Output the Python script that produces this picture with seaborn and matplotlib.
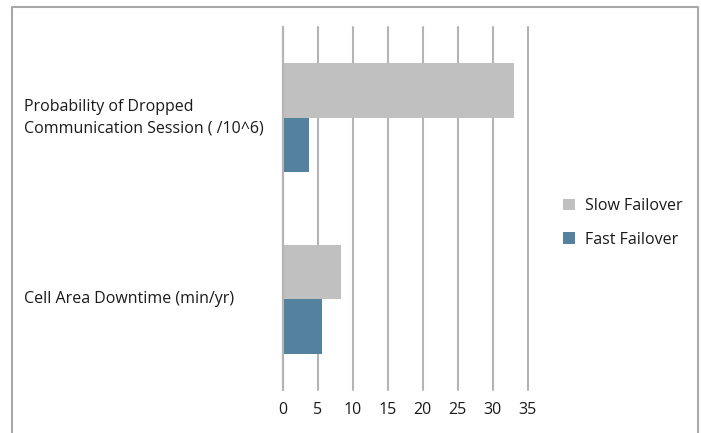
import matplotlib
matplotlib.use("Agg")
import matplotlib.pyplot as plt
import seaborn as sns
import pandas as pd
from matplotlib.patches import Patch
from matplotlib.lines import Line2D

categories = ["Probability of Dropped\nCommunication Session ( /10^6)",
              "Cell Area Downtime (min/yr)"]
series = ["Slow Failover", "Fast Failover"]
slow_values = [33.0, 8.3]
fast_values = [3.8, 5.7]
x_ticks = [0, 5, 10, 15, 20, 25, 30, 35]

colors = {"Slow Failover": "#c0c0c0", "Fast Failover": "#53819e"}
grid_color = "#b4b4b4"

df = pd.DataFrame({
    "category": categories * 2,
    "series": [series[0]] * 2 + [series[1]] * 2,
    "value": slow_values + fast_values,
})

sns.set_theme(style="white")
plt.rcParams["font.family"] = ["Open Sans", "DejaVu Sans"]

fig = plt.figure(figsize=(7.01, 4.33), dpi=100)
ax = fig.add_axes([282.5 / 701, 1 - 390 / 433, (527.5 - 282.5) / 701, (390 - 27) / 433])

sns.barplot(data=df, y="category", x="value", hue="series", order=categories,
            hue_order=series, palette=colors, orient="h", width=0.6,
            saturation=1, ax=ax, legend=False, linewidth=0, edgecolor="none")

ax.set_xlim(0, 35)
ax.set_ylim(1.5, -0.5)
ax.set_xticks(x_ticks)
ax.set_xticklabels([str(t) for t in x_ticks], fontsize=11.5, color="#1a1a1a")
ax.xaxis.grid(True, color=grid_color, linewidth=1.5)
for gl in ax.get_xgridlines():
    gl.set_clip_on(False)
ax.set_axisbelow(True)
ax.tick_params(axis="x", length=4, width=1.5, color=grid_color, pad=5)

# category labels, left aligned at the panel edge
ax.set_yticks(range(len(categories)))
ax.set_yticklabels(categories, fontsize=11.5, ha="left", va="center",
                   color="#1a1a1a", linespacing=1.45)
ax.tick_params(axis="y", which="major", length=0, pad=186)
ax.set_yticks([-0.5, 0.5, 1.5], minor=True)
ax.tick_params(axis="y", which="minor", length=5, width=1.5, color=grid_color)
ax.set_xlabel("")
ax.set_ylabel("")

for side in ["top", "right", "bottom"]:
    ax.spines[side].set_visible(False)
ax.spines["left"].set_color(grid_color)
ax.spines["left"].set_linewidth(1.5)

handles = [Patch(facecolor=colors[s], edgecolor="none", label=s) for s in series]
fig.legend(handles=handles, loc="center left",
           bbox_to_anchor=(549 / 701, 1 - 223 / 433), frameon=False,
           fontsize=11.5, handlelength=0.75, handleheight=0.75,
           handletextpad=0.6, labelspacing=1.1, labelcolor="#1a1a1a")

# outer frame (top, left, right)
fx = [11.5 / 701, 11.5 / 701, 697.5 / 701, 697.5 / 701]
fy = [0.0, 1 - 6.5 / 433, 1 - 6.5 / 433, 0.0]
fig.add_artist(Line2D(fx, fy, transform=fig.transFigure, color="#a8a8a8",
                      linewidth=1.5))

fig.savefig("out.png", dpi=100)
